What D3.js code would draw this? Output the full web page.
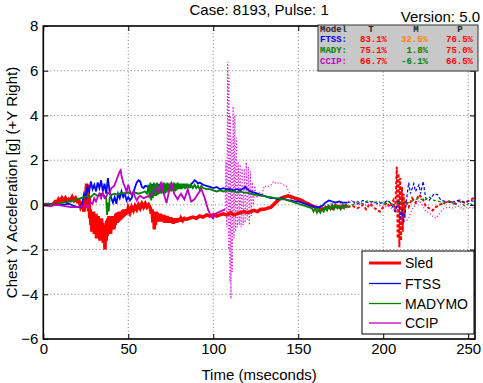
<!DOCTYPE html>
<html><head><meta charset="utf-8">
<script src="https://cdn.jsdelivr.net/npm/d3@7"></script>
<style>body{margin:0;background:#fff}svg{display:block}</style>
</head><body>
<svg id="c" width="483" height="383"></svg>
<script>
// ---------- data ----------
const xTicks = [0, 50, 100, 150, 200, 250];
const yTicks = [-6, -4, -2, 0, 2, 4, 6, 8];
const seriesNames = ["Sled", "FTSS", "MADYMO", "CCIP"];
const titleText = "Case: 8193, Pulse: 1";
const versionText = "Version: 5.0";
const tableHeader = ["Model", "T", "M", "P"];
const tableModels = ["FTSS:", "MADY:", "CCIP:"];
const tableT = ["83.1%", "75.1%", "66.7%"];
const tableM = ["32.5%", "1.8%", "-6.1%"];
const tableP = ["76.5%", "75.0%", "66.5%"];

// Sled (solid = evaluation window, tail = dashed)
const sledSolid = [[0,0],[2,0.02],[4,-0.02],[6,0.05],[7,0.15],[8,0.1],[9,0.25],[10,0.15],[11,0.3],[12,0.2],[13,0.3],[14,0.15],[15,0.25],[16,0.2],[17,0.35],[18,0.2],[19,0.3],[20,0.15],[21,0.2],[22,-0.1],[23,0.05],[24,-0.3],[25,0.5],[25.5,0.95],[26,0.2],[26.3,0.9],[26.6,-0.3],[27,0.4],[27.3,-0.6],[27.6,-0.2],[28,-0.9],[28.3,-0.3],[28.6,-1.2],[29,-0.4],[29.3,-1.0],[29.6,-0.3],[30,-1.3],[30.3,-0.5],[30.6,-1.1],[31,-0.4],[31.3,-1.5],[31.6,-0.6],[32,-1.2],[32.3,-0.5],[32.6,-1.4],[33,-0.6],[33.3,-1.6],[33.6,-0.7],[34,-1.3],[34.3,-0.6],[34.6,-1.5],[35,-0.8],[35.3,-1.7],[35.6,-0.9],[36,-1.4],[36.3,-2.0],[36.6,-1.0],[37,-1.6],[37.3,-0.7],[37.6,-1.4],[38,-0.6],[38.3,-1.3],[38.6,-0.5],[39,-1.2],[39.3,-0.6],[39.6,-1.3],[40,-0.7],[40.3,-1.1],[40.6,-0.5],[41,-1.0],[41.3,-0.5],[41.6,-1.1],[42,-0.6],[42.3,-0.9],[42.6,-0.4],[43,-0.8],[43.3,-0.35],[43.6,-0.8],[44,-0.4],[44.3,-0.75],[44.6,-0.3],[45,-0.7],[45.3,-0.35],[45.6,-0.65],[46,-0.3],[46.3,-0.6],[46.6,-0.25],[47,-0.55],[47.3,-0.2],[47.6,-0.5],[48,-0.25],[48.5,-0.45],[49,-0.2],[49.5,-0.4],[50,-0.15],[51,-0.35],[52,-0.1],[53,-0.25],[54,-0.05],[55,-0.2],[56,0.0],[57,-0.15],[58,0.05],[59,-0.1],[60,0.05],[61,-0.1],[62,0.0],[63,-0.15],[63.5,-0.4],[64,-0.2],[64.5,-0.8],[65,-0.3],[65.3,-1.1],[65.6,-0.4],[66,-0.9],[66.3,-0.3],[66.6,-0.7],[67,-0.35],[67.5,-0.75],[68,-0.4],[68.5,-0.7],[69,-0.4],[69.5,-0.75],[70,-0.45],[70.5,-0.7],[71,-0.45],[71.5,-0.8],[72,-0.5],[72.5,-0.75],[73,-0.5],[73.5,-0.8],[74,-0.55],[74.5,-0.8],[75,-0.55],[75.5,-0.8],[76,-0.6],[76.5,-0.85],[77,-0.6],[77.5,-0.8],[78,-0.6],[78.5,-0.8],[79,-0.6],[79.5,-0.75],[80,-0.6],[80.5,-0.75],[81,-0.6],[82,-0.7],[83,-0.6],[84,-0.65],[86,-0.6],[88,-0.55],[90,-0.6],[92,-0.5],[94,-0.55],[96,-0.45],[98,-0.5],[100,-0.45],[102,-0.5],[104,-0.45],[106,-0.4],[108,-0.45],[110,-0.35],[112,-0.45],[114,-0.4],[116,-0.35],[118,-0.3],[120,-0.35],[122,-0.3],[124,-0.25],[126,-0.3],[128,-0.2],[130,-0.2],[132,-0.15],[134,-0.1],[136,0.05],[138,0.2],[140,0.3],[142,0.35],[144,0.4],[146,0.35],[148,0.3],[150,0.25],[152,0.2],[154,0.1],[156,0.05],[158,-0.05],[160,-0.1],[162,-0.15],[164,-0.2],[166,-0.15],[168,-0.1],[170,-0.15],[172,-0.05],[174,-0.1],[176,-0.1],[178,-0.05],[179,-0.1]];
const sledTail = [[179,-0.1],[182,-0.05],[185,-0.15],[188,0.0],[190,-0.2],[192,0.05],[195,-0.15],[198,-0.3],[200,-0.1],[202,0.1],[204,-0.1],[206,0.2],[207,-0.3],[208,1.7],[208.5,-1.5],[209,1.4],[209.5,-1.9],[210,1.2],[210.5,-1.6],[211,0.8],[211.5,-1.2],[212,0.5],[212.5,-0.6],[213,0.2],[215,-0.1],[217,0.3],[219,0.1],[221,0.45],[223,0.3],[225,-0.05],[227,-0.15],[229,-0.25],[231,-0.1],[233,0.0],[236,0.1],[239,0.15],[242,0.05],[245,0.2],[248,0.1],[251,0.2],[254,0.35]];

const ftssSolid = [[0,0.0],[3,0.05],[6,0.0],[9,0.05],[12,0.0],[15,0.05],[18,-0.05],[20,-0.1],[22,-0.1],[23,0.1],[24,0.5],[25,0.3],[26,0.8],[27,0.6],[28,1.05],[29,0.7],[30,0.9],[31,0.6],[32,1.0],[33,0.75],[34,1.1],[35,0.6],[36,0.95],[37,0.5],[38,1.2],[39,0.6],[40,0.3],[41,0.1],[42,0.35],[43,0.05],[44,0.5],[45,0.3],[46,0.6],[47,0.35],[48,0.5],[49,0.2],[50,0.35],[51,0.2],[52,0.3],[53,0.55],[54,0.8],[55,1.0],[56,1.1],[57,1.05],[58,0.8],[59,0.75],[60,0.85],[62,0.8],[64,0.9],[66,0.85],[68,0.9],[70,0.85],[72,0.9],[74,0.8],[76,0.85],[78,0.9],[80,0.8],[82,0.85],[84,0.8],[86,0.85],[88,1.0],[89,1.1],[90,1.05],[91,0.95],[92,1.0],[94,0.9],[96,0.85],[98,0.8],[100,0.75],[102,0.8],[104,0.7],[106,0.75],[108,0.7],[110,0.7],[112,0.65],[114,0.7],[116,0.65],[118,0.75],[119,0.8],[120,0.7],[122,0.6],[124,0.55],[126,0.5],[128,0.45],[130,0.4],[132,0.35],[134,0.3],[136,0.3],[138,0.25],[140,0.3],[142,0.25],[144,0.2],[146,0.2],[148,0.15],[150,0.15],[152,0.1],[154,0.05],[156,0.0],[158,-0.05],[160,-0.1],[162,-0.1],[164,-0.05],[166,0.1],[168,0.2],[170,0.15],[172,0.1],[174,0.15],[176,0.1],[179,0.1]];
const ftssTail = [[179,0.1],[182,0.15],[185,0.05],[188,0.2],[191,0.1],[194,0.15],[197,0.05],[200,0.1],[203,0.2],[205,0.0],[207,-0.3],[209,0.2],[210,-0.6],[211,-0.2],[212,-0.8],[213,-0.3],[214,0.4],[215,1.0],[216,0.5],[218,0.95],[219,0.6],[221,0.9],[222,0.5],[223.5,1.05],[225,0.3],[227,0.2],[230,0.5],[232,0.45],[234,0.2],[237,0.15],[240,0.1],[244,0.2],[248,0.1],[251,0.2],[254,0.15]];

const madySolid = [[0,0.0],[3,0.05],[6,0.0],[9,0.05],[12,0.1],[15,0.15],[18,0.2],[20,0.25],[22,0.3],[24,0.35],[26,0.4],[28,0.35],[30,0.5],[32,0.4],[34,0.5],[36,0.4],[37,0.3],[37.5,-0.45],[38,0.1],[38.5,-0.3],[39,0.3],[40,0.45],[42,0.5],[44,0.45],[46,0.55],[48,0.5],[50,0.55],[52,0.5],[54,0.55],[56,0.5],[58,0.55],[60,0.6],[61,0.5],[62,0.9],[62.5,0.3],[63,1.0],[63.5,0.2],[64,0.9],[64.5,0.3],[65,1.0],[65.5,0.4],[66,0.95],[66.5,0.4],[67,1.0],[67.5,0.45],[68,0.9],[68.5,0.5],[69,1.0],[69.5,0.5],[70,0.95],[70.5,0.55],[71,1.0],[71.5,0.5],[72,0.95],[72.5,0.55],[73,1.0],[73.5,0.6],[74,0.95],[74.5,0.6],[75,1.0],[75.5,0.6],[76,0.95],[76.5,0.65],[77,1.0],[77.5,0.6],[78,0.95],[78.5,0.65],[79,1.0],[79.5,0.7],[80,0.95],[80.5,0.7],[81,0.95],[81.5,0.7],[82,0.95],[82.5,0.75],[83,0.95],[83.5,0.7],[84,0.95],[84.5,0.75],[85,0.95],[85.5,0.75],[86,0.9],[86.5,0.75],[87,0.9],[88,0.75],[89,0.9],[90,0.75],[91,0.85],[92,0.7],[93,0.85],[94,0.75],[96,0.7],[98,0.7],[100,0.65],[102,0.6],[104,0.65],[106,0.6],[108,0.65],[110,0.6],[112,0.6],[114,0.55],[116,0.6],[118,0.55],[120,0.55],[122,0.5],[124,0.45],[126,0.45],[128,0.4],[130,0.4],[132,0.35],[134,0.35],[136,0.3],[138,0.3],[140,0.25],[142,0.25],[144,0.2],[146,0.15],[148,0.1],[150,0.05],[152,0.0],[154,-0.05],[156,-0.1],[158,-0.15],[159,-0.3],[160,-0.15],[161,-0.35],[162,-0.2],[163,-0.35],[164,-0.2],[165,-0.3],[166,-0.1],[167,-0.25],[168,-0.05],[169,-0.2],[170,0.0],[171,-0.2],[172,0.0],[173,-0.15],[174,-0.05],[175,-0.2],[176,0.0],[177,-0.15],[178,0.0],[179,-0.1]];
const madyTail = [[179,-0.1],[182,0.0],[185,0.15],[188,0.05],[191,0.2],[194,0.1],[197,0.15],[200,0.05],[203,0.15],[206,0.0],[209,0.1],[212,0.05],[215,0.1],[218,0.2],[221,0.3],[224,0.2],[227,0.35],[230,0.2],[233,0.15],[236,0.05],[239,0.2],[242,0.0],[245,0.15],[248,-0.05],[251,0.1],[254,-0.15]];

const ccipSolid = [[0,0.0],[4,-0.05],[8,0.0],[12,-0.05],[16,-0.1],[20,-0.1],[24,-0.05],[26,-0.1],[28,0.1],[29,0.05],[30,0.3],[31,0.15],[32,0.35],[33,0.5],[34,0.3],[35,0.55],[36,0.3],[37,0.35],[38,0.55],[39,0.5],[40,0.75],[41,0.8],[42,0.9],[43,1.1],[44,1.3],[45,1.5],[45.5,1.55],[46,1.3],[47,1.0],[48,0.8],[49,0.6],[50,0.9],[51,0.6],[52,0.45],[53,0.6],[54,0.35],[55,0.2],[56,0.35],[57,0.4],[59,0.3],[61,0.37],[63,0.4],[65,0.6],[67,0.8],[68,0.6],[69.5,1.04],[70.5,0.6],[72.5,0.08],[74.5,0.8],[75.5,0.97],[77,0.5],[79,0.25],[81,0.5],[83,0.25],[85,0.7],[87,0.15],[89,0.25],[91,0.5],[93,0.7],[95,0.3],[97,-0.23],[99,-0.55],[100,-0.6],[101,-0.4],[104,-0.3],[107,-0.2]];
const ccipTail = [[107,-0.2],[107.5,2.0],[108,-1.0],[108.5,6.4],[109,-2.0],[109.3,5.8],[109.7,-3.5],[110,4.0],[110.4,-4.2],[110.8,3.0],[111.2,-3.0],[111.7,4.4],[112.2,-1.5],[112.7,4.0],[113.2,-1.2],[113.7,3.0],[114.2,-1.0],[114.7,1.9],[115.3,-0.9],[115.8,1.8],[116.4,-1.0],[117,1.7],[117.6,-0.9],[118.2,1.6],[118.8,-0.8],[119.4,1.9],[120,-0.7],[120.6,1.7],[121.2,-0.9],[121.8,1.5],[122.4,-0.5],[123,1.0],[123.6,0.0],[124.5,0.85],[125.5,0.3],[127,0.6],[128.5,0.4],[130,0.85],[132,0.8],[134,0.9],[135.5,1.05],[137,0.95],[139,1.0],[141,0.9],[143,0.85],[145,0.5],[147,0.3],[149,0.2],[152,0.1],[155,0.0],[158,-0.1],[161,-0.05],[164,-0.1],[167,0.0],[170,0.05],[173,0.1],[176,0.0],[179,0.15],[182,0.2],[185,0.0],[188,0.05],[191,-0.05],[194,0.1],[197,0.0],[200,-0.1],[203,-0.05],[206,-0.2],[209,-0.3],[211,-0.5],[213,-0.75],[215,-0.6],[217,-0.2],[219,0.0],[221,0.2],[223,0.0],[225,-0.3],[227,-0.35],[229,-0.5],[231,-0.6],[233,-0.4],[235,-0.2],[238,-0.1],[241,-0.15],[244,-0.05],[247,-0.2],[250,-0.1],[254,-0.15]];

// ---------- drawing ----------
const svg = d3.select("#c");
const W = 483, H = 383;
const L = 43.3, R = 475, T = 26, B = 339;
const FONT = "Arial, 'Liberation Sans', Helvetica, sans-serif";
const x = d3.scaleLinear().domain([0, 254]).range([L, R]);
const y = d3.scaleLinear().domain([-6, 8]).range([B, T]);

svg.append("rect").attr("width", W).attr("height", H).attr("fill", "#fff");

// grid
const grid = svg.append("g");
grid.selectAll(".gx").data(xTicks.filter(t => t > 0)).join("line")
  .attr("x1", d => x(d)).attr("x2", d => x(d)).attr("y1", T).attr("y2", B)
  .attr("stroke", "#7a7a7a").attr("stroke-width", 1).attr("stroke-dasharray", "1,2.5");
grid.selectAll(".gy").data(yTicks.filter(t => t > -6 && t < 8)).join("line")
  .attr("x1", L).attr("x2", R).attr("y1", d => y(d)).attr("y2", d => y(d))
  .attr("stroke", "#7a7a7a").attr("stroke-width", 1).attr("stroke-dasharray", "1,2.5");

svg.append("clipPath").attr("id", "pc").append("rect")
  .attr("x", L).attr("y", T).attr("width", R - L).attr("height", B - T);
const plot = svg.append("g").attr("clip-path", "url(#pc)");
const line = d3.line().x(d => x(d[0])).y(d => y(d[1]));

const colors = { Sled: "#ff0000", FTSS: "#0000ff", MADYMO: "#008000", CCIP: "#c000c0" };

// dashed tails
plot.append("path").datum(sledTail).attr("d", line).attr("fill", "none")
  .attr("stroke", colors.Sled).attr("stroke-width", 2).attr("stroke-dasharray", "3,2");
plot.append("path").datum(ftssTail).attr("d", line).attr("fill", "none")
  .attr("stroke", colors.FTSS).attr("stroke-width", 1.2).attr("stroke-dasharray", "3,2");
plot.append("path").datum(madyTail).attr("d", line).attr("fill", "none")
  .attr("stroke", colors.MADYMO).attr("stroke-width", 1.2).attr("stroke-dasharray", "3,2");
plot.append("path").datum(ccipTail).attr("d", line).attr("fill", "none")
  .attr("stroke", "#dd22dd").attr("stroke-width", 1.2).attr("stroke-dasharray", "1.2,2");

// solid windows
plot.append("path").datum(sledSolid).attr("d", line).attr("fill", "none")
  .attr("stroke", colors.Sled).attr("stroke-width", 3.5);
plot.append("path").datum(ftssSolid).attr("d", line).attr("fill", "none")
  .attr("stroke", colors.FTSS).attr("stroke-width", 1.8);
plot.append("path").datum(madySolid).attr("d", line).attr("fill", "none")
  .attr("stroke", colors.MADYMO).attr("stroke-width", 1.8);
plot.append("path").datum(ccipSolid).attr("d", line).attr("fill", "none")
  .attr("stroke", colors.CCIP).attr("stroke-width", 1.8);

// axes
const xb = svg.append("g").attr("transform", `translate(0,${B})`)
  .call(d3.axisBottom(x).tickValues(xTicks).tickSize(-5).tickPadding(6).tickFormat(d3.format("d")));
const xt = svg.append("g").attr("transform", `translate(0,${T})`)
  .call(d3.axisTop(x).tickValues(xTicks).tickSize(-5).tickFormat(""));
const yl = svg.append("g").attr("transform", `translate(${L},0)`)
  .call(d3.axisLeft(y).tickValues(yTicks).tickSize(-5).tickPadding(6).tickFormat(d3.format("d")));
const yr = svg.append("g").attr("transform", `translate(${R},0)`)
  .call(d3.axisRight(y).tickValues(yTicks).tickSize(-5).tickFormat(""));
[xb, xt, yl, yr].forEach(g => {
  g.select(".domain").remove();
  g.selectAll(".tick line").attr("stroke", "#000").attr("stroke-width", 1);
  g.selectAll("text").attr("font-family", FONT).attr("font-size", 15).attr("fill", "#000");
});
xb.selectAll("text").attr("dy", "0.72em").attr("y", 4);
yl.selectAll("text").attr("x", -5);

svg.append("rect").attr("x", L).attr("y", T).attr("width", R - L).attr("height", B - T)
  .attr("fill", "none").attr("stroke", "#000").attr("stroke-width", 1.6);

// titles
svg.append("text").attr("x", (L + R) / 2).attr("y", 15).attr("text-anchor", "middle")
  .attr("font-family", FONT).attr("font-size", 15).text(titleText);
svg.append("text").attr("x", 480).attr("y", 22).attr("text-anchor", "end")
  .attr("font-family", FONT).attr("font-size", 15).text(versionText);
svg.append("text").attr("x", (L + R) / 2).attr("y", 380).attr("text-anchor", "middle")
  .attr("font-family", FONT).attr("font-size", 15).text("Time (mseconds)");
svg.append("text").attr("transform", `translate(17,${(T + B) / 2}) rotate(-90)`)
  .attr("text-anchor", "middle").attr("font-family", FONT).attr("font-size", 15)
  .text("Chest Y Acceleration [g] (+Y Right)");

// score table
const tb = svg.append("g");
tb.append("rect").attr("x", 318).attr("y", 25).attr("width", 160).attr("height", 46)
  .attr("fill", "#c8c8c8").attr("stroke", "#333").attr("stroke-width", 1);
svg.append("clipPath").attr("id", "tc").append("rect")
  .attr("x", 318).attr("y", 25.5).attr("width", 160).attr("height", 46);
const tt = tb.append("g").attr("clip-path", "url(#tc)")
  .attr("font-family", "'Liberation Mono','DejaVu Sans Mono',monospace")
  .attr("font-size", 9).attr("font-weight", "bold");
const colX = [320, 387, 428, 473];
tt.append("text").attr("x", colX[0]).attr("y", 31.5).attr("fill", "#222").text(tableHeader[0]);
tableHeader.slice(1).forEach((h, i) => {
  tt.append("text").attr("x", [371, 416, 460][i]).attr("y", 31.5).attr("text-anchor", "middle")
    .attr("fill", "#222").text(h);
});
const modelCol = ["#0000ff", "#008000", "#c000c0"];
const mCol = ["#ff8000", "#008000", "#008000"];
const rowY = [42, 53, 64];
tableModels.forEach((m, i) => {
  tt.append("text").attr("x", colX[0]).attr("y", rowY[i]).attr("fill", modelCol[i]).text(m);
  tt.append("text").attr("x", colX[1]).attr("y", rowY[i]).attr("text-anchor", "end").attr("fill", "#ff0000").text(tableT[i]);
  tt.append("text").attr("x", colX[2]).attr("y", rowY[i]).attr("text-anchor", "end").attr("fill", mCol[i]).text(tableM[i]);
  tt.append("text").attr("x", colX[3]).attr("y", rowY[i]).attr("text-anchor", "end").attr("fill", "#ff0000").text(tableP[i]);
});

// legend
const lg = svg.append("g");
lg.append("rect").attr("x", 362).attr("y", 251).attr("width", 112).attr("height", 83)
  .attr("fill", "#fff").attr("stroke", "#000").attr("stroke-width", 1);
const legY = [263, 283.5, 303.5, 323];
seriesNames.forEach((n, i) => {
  lg.append("line").attr("x1", 369).attr("x2", 401).attr("y1", legY[i]).attr("y2", legY[i])
    .attr("stroke", colors[n]).attr("stroke-width", i === 0 ? 3 : 1.3);
  lg.append("text").attr("x", 405).attr("y", legY[i]).attr("dy", "0.36em")
    .attr("font-family", FONT).attr("font-size", 14).text(n);
});
</script>
</body></html>
